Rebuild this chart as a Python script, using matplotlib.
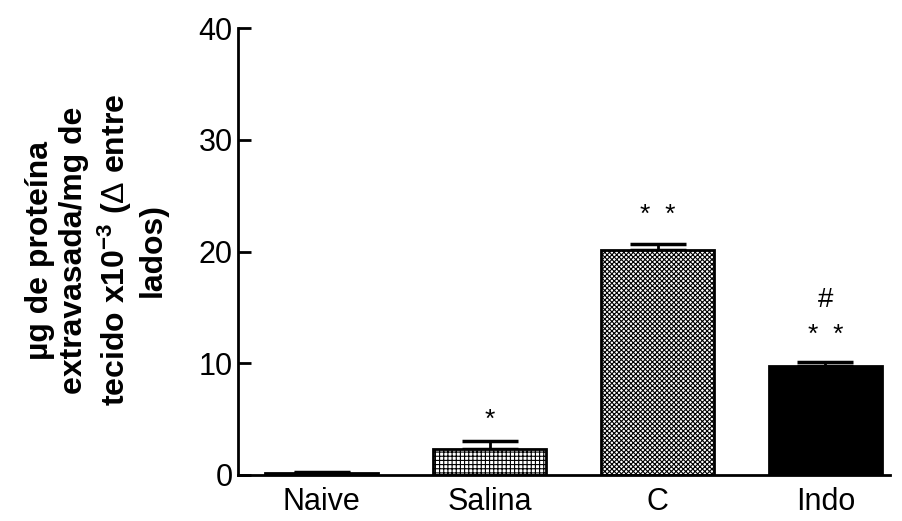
import matplotlib
matplotlib.use("Agg")
import matplotlib.pyplot as plt
import numpy as np

plt.rcParams['font.family'] = ['Liberation Sans', 'DejaVu Sans']
plt.rcParams['mathtext.fontset'] = 'custom'
plt.rcParams['mathtext.rm'] = 'Liberation Sans'
plt.rcParams['mathtext.it'] = 'Liberation Sans'
plt.rcParams['mathtext.bf'] = 'Liberation Sans:bold'
plt.rcParams['hatch.linewidth'] = 0.8

categories = ["Naive", "Salina", "C", "Indo"]
values = [0.2, 2.3, 20.1, 9.8]
errors = [0.05, 0.7, 0.6, 0.35]
hatches = [None, '++++', 'xxxxxxx', None]
facecolors = ['white', 'white', 'white', 'black']
annotations = ["", "*", "*  *", "*  *"]
annot_y = [0, 4.9, 23.3, 12.5]
hash_text = ["", "", "", "#"]
hash_y = [0, 0, 0, 15.7]
yticks = [0, 10, 20, 30, 40]

fig = plt.figure(figsize=(9.02, 5.21), dpi=100)
ax = fig.add_axes([0.2639, 0.0883, 0.7228, 0.8577])

x = np.arange(len(categories))
ax.errorbar(x, values, yerr=[np.zeros(len(values)), errors], fmt='none',
            ecolor='black', elinewidth=2, capsize=20.5, capthick=2.5, zorder=1)
for xi, v, h, fc in zip(x, values, hatches, facecolors):
    ax.bar(xi, v, width=0.67, color=fc, edgecolor='black', linewidth=2,
           hatch=h, zorder=2)

for xi, t, yy in zip(x, annotations, annot_y):
    if t:
        ax.text(xi, yy, t, ha='center', va='center', fontsize=19)
for xi, t, yy in zip(x, hash_text, hash_y):
    if t:
        ax.text(xi, yy, t, ha='center', va='center', fontsize=20)

ax.set_xlim(-0.497, 3.384)
ax.set_ylim(0, 40)
ax.set_yticks(yticks)
ax.set_xticks(x)
ax.set_xticklabels(categories)
ax.spines['top'].set_visible(False)
ax.spines['right'].set_visible(False)
ax.spines['left'].set_linewidth(2)
ax.spines['bottom'].set_linewidth(2)
ax.tick_params(axis='y', direction='in', length=9, width=2, labelsize=22, pad=4)
ax.tick_params(axis='x', length=0, labelsize=22, pad=9)

fig.text(0.107, 0.52,
         "µg de proteína\nextravasada/mg de\ntecido x10$^{\\mathbf{-3}}$ ($\\Delta$ entre\nlados)",
         rotation=90, ha='center', va='center', multialignment='center',
         fontsize=23, fontweight='bold', linespacing=1.2)

fig.savefig("out.png", dpi=100)
